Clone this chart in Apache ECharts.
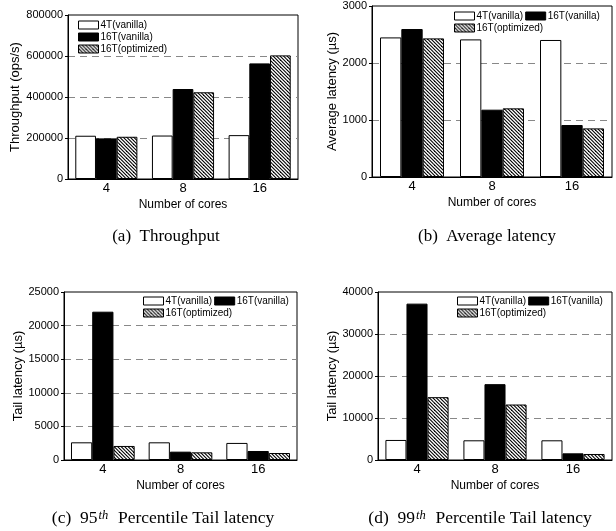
<!DOCTYPE html>
<html><head><meta charset="utf-8">
<script src="https://cdn.jsdelivr.net/npm/echarts@6/dist/echarts.min.js"></script>
<style>html,body{margin:0;padding:0;background:#fff}#c{width:616px;height:531px}</style>
</head><body><div id="c"></div>
<script>
const categories = ['4', '8', '16'];
const seriesNames = ['4T(vanilla)', '16T(vanilla)', '16T(optimized)'];

const throughput4T = [211000, 212000, 214000];
const throughput16T = [198000, 439000, 564000];
const throughput16Topt = [206000, 423000, 603000];

const avgLat4T = [2449, 2414, 2404];
const avgLat16T = [2596, 1181, 912];
const avgLat16Topt = [2432, 1204, 853];

const p95Lat4T = [2630, 2630, 2540];
const p95Lat16T = [22070, 1240, 1340];
const p95Lat16Topt = [2090, 1140, 1040];

const p99Lat4T = [4770, 4690, 4690];
const p99Lat16T = [37230, 18060, 1590];
const p99Lat16Topt = [14960, 13210, 1430];

const yNames = ['Throughput (ops/s)', 'Average latency (\u00b5s)', 'Tail latency (\u00b5s)', 'Tail latency (\u00b5s)'];
const yMax = [800000, 3000, 25000, 40000];
const yInterval = [200000, 1000, 5000, 10000];
const xName = 'Number of cores';

// hatch pattern
function makeHatch() {
  const T = 7;
  const cv = document.createElement('canvas');
  cv.width = T; cv.height = T;
  const ctx = cv.getContext('2d');
  ctx.fillStyle = '#fff';
  ctx.fillRect(0, 0, T, T);
  ctx.strokeStyle = '#000';
  ctx.lineWidth = 1.1;
  for (const k of [-7, -3.5, 0, 3.5, 7]) {
    ctx.beginPath();
    ctx.moveTo(-1, -1 + k);
    ctx.lineTo(T + 1, T + 1 + k);
    ctx.stroke();
  }
  return cv;
}
const hatch = { image: makeHatch(), repeat: 'repeat' };
const fills = ['#ffffff', '#000000', hatch];

const panelData = [
  [throughput4T, throughput16T, throughput16Topt],
  [avgLat4T, avgLat16T, avgLat16Topt],
  [p95Lat4T, p95Lat16T, p95Lat16Topt],
  [p99Lat4T, p99Lat16T, p99Lat16Topt]
];

const grids = [
  { left: 68, top: 15, width: 230, height: 164 },
  { left: 372, top: 6, width: 240, height: 171 },
  { left: 64, top: 292, width: 233, height: 168 },
  { left: 378, top: 292, width: 234, height: 168 }
];
const nameGaps = [41, 32, 39, 38];
const catGaps = ['19%', '20%', '18%', '19%'];

const FONT = 'Liberation Sans';

const option = {
  animation: false,
  backgroundColor: '#fff',
  textStyle: { fontFamily: FONT, color: '#000' },
  grid: grids.map(g => Object.assign({ show: true, borderColor: '#000', borderWidth: 1, backgroundColor: 'transparent' }, g)),
  xAxis: grids.map((g, i) => ({
    type: 'category', gridIndex: i, data: categories,
    name: xName, nameLocation: 'middle', nameGap: 20,
    nameTextStyle: { fontSize: 12, color: '#000', fontFamily: FONT },
    axisLine: { lineStyle: { color: '#000', width: 1 } },
    axisTick: { show: false },
    axisLabel: { fontSize: 13, color: '#000', margin: 3, fontFamily: FONT },
    splitLine: { show: false }
  })),
  yAxis: grids.map((g, i) => ({
    type: 'value', gridIndex: i, min: 0, max: yMax[i], interval: yInterval[i],
    name: yNames[i], nameLocation: 'middle', nameGap: nameGaps[i],
    nameTextStyle: { fontSize: 13, color: '#000', fontFamily: FONT },
    axisLine: { show: true, lineStyle: { color: '#000', width: 1 } },
    axisTick: { show: true, length: 3, lineStyle: { color: '#000' } },
    axisLabel: { fontSize: 11, color: '#000', margin: 5, fontFamily: FONT, formatter: v => String(v) },
    splitLine: { show: true, showMinLine: false, showMaxLine: false, lineStyle: { color: '#888', type: [7, 5], width: 1 } }
  })),
  legend: [
    { data: seriesNames, orient: 'vertical', left: 78, top: 20 },
    { data: seriesNames.slice(0, 2), orient: 'horizontal', left: 454, top: 11 },
    { data: seriesNames.slice(2), orient: 'horizontal', left: 454, top: 23 },
    { data: seriesNames.slice(0, 2), orient: 'horizontal', left: 143, top: 296 },
    { data: seriesNames.slice(2), orient: 'horizontal', left: 143, top: 308 },
    { data: seriesNames.slice(0, 2), orient: 'horizontal', left: 457, top: 296 },
    { data: seriesNames.slice(2), orient: 'horizontal', left: 457, top: 308 }
  ].map(l => Object.assign({
    icon: 'rect', itemWidth: 20, itemHeight: 8, itemGap: l.orient === 'vertical' ? 2 : 2,
    selectedMode: false, padding: 0,
    itemStyle: { borderColor: '#000', borderWidth: 1 },
    textStyle: { fontSize: 10, color: '#000', fontFamily: FONT, lineHeight: 9, padding: [0, 0, 0, -3] }
  }, l)),
  series: [],
  graphic: [
    { type: 'text', x: 166, y: 237, style: { text: '(a)  Throughput', fontSize: 17, fontFamily: 'Liberation Serif', fill: '#000', textAlign: 'center', textVerticalAlign: 'middle' } },
    { type: 'text', x: 487, y: 237, style: { text: '(b)  Average latency', fontSize: 17, fontFamily: 'Liberation Serif', fill: '#000', textAlign: 'center', textVerticalAlign: 'middle' } },
    { type: 'text', x: 163, y: 518, style: { text: '(c)  95{sup|th}  Percentile Tail latency', fontSize: 17.5, fontFamily: 'Liberation Serif', fill: '#000', textAlign: 'center', textVerticalAlign: 'middle',
      rich: { sup: { fontSize: 12.5, fontStyle: 'italic', fontFamily: 'Liberation Serif', verticalAlign: 'top', lineHeight: 12, padding: [0, 1, 0, 1] } } } },
    { type: 'text', x: 480, y: 518, style: { text: '(d)  99{sup|th}  Percentile Tail latency', fontSize: 17.5, fontFamily: 'Liberation Serif', fill: '#000', textAlign: 'center', textVerticalAlign: 'middle',
      rich: { sup: { fontSize: 12.5, fontStyle: 'italic', fontFamily: 'Liberation Serif', verticalAlign: 'top', lineHeight: 12, padding: [0, 1, 0, 1] } } } }
  ]
};

panelData.forEach((arrs, p) => {
  arrs.forEach((vals, s) => {
    option.series.push({
      type: 'bar', name: seriesNames[s], xAxisIndex: p, yAxisIndex: p,
      data: vals, barGap: '0%', barCategoryGap: catGaps[p],
      itemStyle: { color: fills[s], borderColor: '#000', borderWidth: 1 },
      emphasis: { disabled: true }
    });
  });
});

const chart = echarts.init(document.getElementById('c'), null, { renderer: 'canvas' });
chart.setOption(option);
</script>
</body></html>
